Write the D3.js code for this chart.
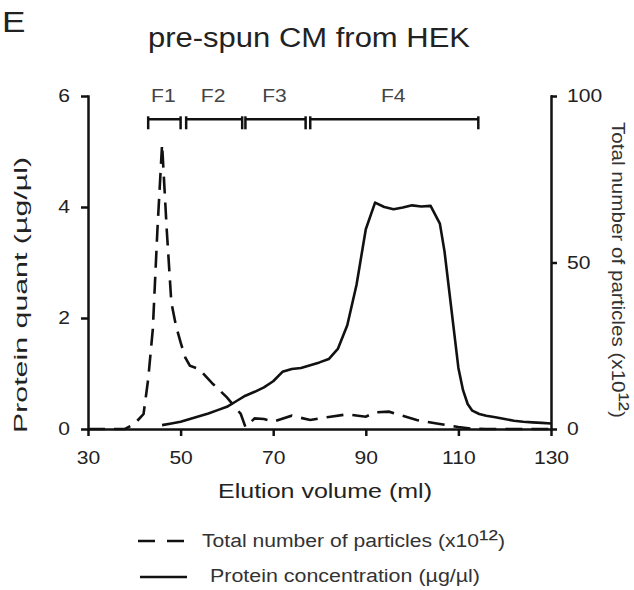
<!DOCTYPE html>
<html>
<head>
<meta charset="utf-8">
<script src="https://cdn.jsdelivr.net/npm/d3@7/dist/d3.min.js"></script>
<style>
  html, body { margin: 0; padding: 0; background: #fff; }
  svg { display: block; font-family: "Liberation Sans", Arial, sans-serif; }
</style>
</head>
<body>
<svg id="chart" width="634" height="590"></svg>
<script>
// ---- data ----
const particleVolume = [30, 34, 38, 40, 42, 43, 44, 45, 46, 47, 48, 49, 50, 51, 52, 54, 57, 60, 63, 64, 66, 68, 70, 74, 78, 80, 82, 86, 90, 92, 95, 101, 105, 110, 113, 116, 120, 125, 130];
const particleCount  = [0, 0, 0, 1.5, 4.5, 15, 30, 60, 85.5, 60, 38, 31, 26, 21.5, 19, 18, 13.5, 9.5, 4.5, 0.6, 3.2, 3.0, 2.2, 4.0, 2.7, 3.2, 3.6, 4.4, 3.7, 5.0, 5.2, 2.7, 1.7, 0.6, 0.1, 0, 0, 0, 0];

const proteinVolume = [46, 48, 50, 52, 54, 56, 58, 60, 62, 64, 66, 68, 70, 72, 74, 76, 78, 80, 82, 84, 86, 88, 90, 92, 94, 96, 98, 100, 102, 104, 106, 107, 110, 111, 112, 113, 114.5, 116, 118, 120, 122, 124, 126, 128, 130];
const proteinConc   = [0.07, 0.1, 0.13, 0.18, 0.23, 0.28, 0.34, 0.4, 0.5, 0.6, 0.67, 0.75, 0.86, 1.03, 1.08, 1.1, 1.15, 1.2, 1.26, 1.45, 1.87, 2.6, 3.6, 4.08, 4.0, 3.96, 3.99, 4.03, 4.01, 4.02, 3.7, 3.2, 1.1, 0.7, 0.45, 0.33, 0.27, 0.24, 0.21, 0.18, 0.15, 0.13, 0.12, 0.11, 0.1];

const fractionNames = ["F1", "F2", "F3", "F4"];
const fractionStart = [43, 51.2, 64, 78];
const fractionEnd   = [50, 63.3, 77, 114.3];

const xTicks = [30, 50, 70, 90, 110, 130];
const yLeftTicks = [0, 2, 4, 6];
const yRightTicks = [0, 50, 100];

const titleText = "pre-spun CM from HEK";
const panelLetter = "E";
const xLabel = "Elution volume (ml)";
const yLeftLabel = "Protein quant (µg/µl)";
const yRightLabelParts = ["Total number of particles (x10", "¹²", ")"];
const legendParticleParts = ["Total number of particles (x10", "¹²", ")"];
const legendProtein = "Protein concentration (µg/µl)";

// ---- layout ----
const svg = d3.select("#chart");
const plotLeft = 88, plotRight = 551, plotTop = 96, plotBottom = 429;
const STRETCH = 1.17;
const ink = "#222";

const x = d3.scaleLinear().domain([30, 130]).range([plotLeft, plotRight]);
const yL = d3.scaleLinear().domain([0, 6]).range([plotBottom, plotTop]);
const yR = d3.scaleLinear().domain([0, 100]).range([plotBottom, plotTop]);

function stretch(sel, target) {
  sel.each(function () {
    const len = this.getComputedTextLength();
    const t = target != null ? target : len * STRETCH;
    d3.select(this).attr("textLength", t).attr("lengthAdjust", "spacingAndGlyphs");
  });
}
function supText(sel, parts) {
  sel.append("tspan").text(parts[0]);
  sel.append("tspan").style("font-size", "1.35em").text(parts[1]);
  sel.append("tspan").text(parts[2]);
}

// data lines
const lineP = d3.line().x((d, i) => x(particleVolume[i])).y(d => yR(d));
const lineC = d3.line().x((d, i) => x(proteinVolume[i])).y(d => yL(d));

svg.append("path").datum(proteinConc)
  .attr("d", lineC).attr("fill", "none").attr("stroke", "#111")
  .attr("stroke-width", 2.6).attr("stroke-linejoin", "round");

svg.append("path").datum(particleCount)
  .attr("d", lineP).attr("fill", "none").attr("stroke", "#111")
  .attr("stroke-width", 2.6).attr("stroke-dasharray", "17,9");

// axes
function styleAxis(g) {
  g.selectAll("path, line").attr("stroke", "#111").attr("stroke-width", 2.5);
  g.selectAll("text").attr("fill", ink).style("font-size", "18px")
    .style("font-family", '"Liberation Sans", Arial, sans-serif');
}
const fmt = d3.format("d");

const gx = svg.append("g").attr("transform", `translate(0,${plotBottom})`)
  .call(d3.axisBottom(x).tickValues(xTicks).tickFormat(fmt).tickSize(7).tickSizeOuter(0).tickPadding(15))
  .call(styleAxis);
const gl = svg.append("g").attr("transform", `translate(${plotLeft},0)`)
  .call(d3.axisLeft(yL).tickValues(yLeftTicks).tickFormat(fmt).tickSize(7).tickSizeOuter(0).tickPadding(11))
  .call(styleAxis);
const gr = svg.append("g").attr("transform", `translate(${plotRight},0)`)
  .call(d3.axisRight(yR).tickValues(yRightTicks).tickFormat(fmt).tickSize(6).tickSizeOuter(0).tickPadding(10))
  .call(styleAxis);
[gx, gl, gr].forEach(g => g.selectAll(".domain").attr("stroke-linecap", "square"));
stretch(gx.selectAll("text"));
stretch(gl.selectAll("text"));
stretch(gr.selectAll("text"));

// fraction brackets
const bracketY = 119.3;
const fr = svg.append("g");
fractionNames.forEach((name, i) => {
  const x0 = x(fractionStart[i]), x1 = x(fractionEnd[i]);
  fr.append("line").attr("x1", x0).attr("x2", x1).attr("y1", bracketY).attr("y2", bracketY)
    .attr("stroke", "#111").attr("stroke-width", 2.5);
  [x0, x1].forEach(xx => fr.append("line").attr("x1", xx).attr("x2", xx)
    .attr("y1", bracketY - 3).attr("y2", bracketY + 10).attr("stroke", "#111").attr("stroke-width", 2.5));
  fr.append("text").attr("x", (x0 + x1) / 2 - 1).attr("y", 102)
    .attr("text-anchor", "middle").attr("fill", "#444").style("font-size", "18px").text(name);
});
stretch(fr.selectAll("text"));

// titles
svg.append("text").attr("x", 2).attr("y", 32).attr("fill", ink)
  .style("font-size", "30px").text(panelLetter).call(stretch);
svg.append("text").attr("x", 309).attr("y", 47).attr("text-anchor", "middle").attr("fill", ink)
  .style("font-size", "27px").text(titleText).call(stretch, 322);

// axis labels
svg.append("text").attr("x", 325).attr("y", 498).attr("text-anchor", "middle").attr("fill", ink)
  .style("font-size", "20px").text(xLabel).call(stretch, 214);
svg.append("text").attr("transform", "translate(27,295) rotate(-90)").attr("text-anchor", "middle")
  .attr("fill", ink).style("font-size", "19px").text(yLeftLabel).call(stretch, 276);
svg.append("text").attr("transform", "translate(612,270) rotate(90)").attr("text-anchor", "middle")
  .attr("fill", "#333").style("font-size", "18px").call(supText, yRightLabelParts).call(stretch, 296);

// legend
const lg = svg.append("g");
lg.append("line").attr("x1", 138).attr("x2", 184).attr("y1", 541).attr("y2", 541)
  .attr("stroke", "#111").attr("stroke-width", 2.6).attr("stroke-dasharray", "17,12");
lg.append("line").attr("x1", 140).attr("x2", 187).attr("y1", 577).attr("y2", 577)
  .attr("stroke", "#111").attr("stroke-width", 2.6);
lg.append("text").attr("x", 202).attr("y", 547).attr("fill", "#333").style("font-size", "18px")
  .call(supText, legendParticleParts).call(stretch, 303);
lg.append("text").attr("x", 210).attr("y", 582).attr("fill", "#333").style("font-size", "18px")
  .text(legendProtein).call(stretch, 270);
</script>
</body>
</html>
